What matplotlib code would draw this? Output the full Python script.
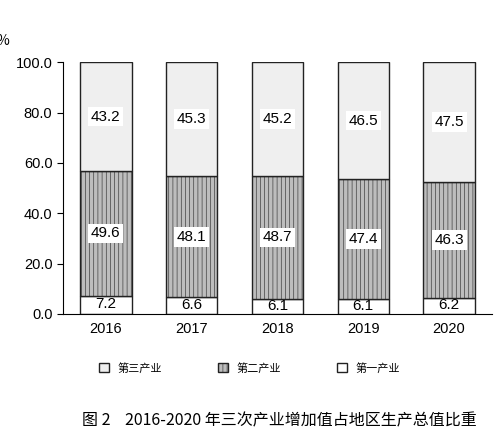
import matplotlib.pyplot as plt
import numpy as np

plt.rcParams['font.family'] = ['Noto Sans CJK SC', 'DejaVu Sans']
plt.rcParams['hatch.linewidth'] = 0.4
plt.rcParams['hatch.color'] = '#777777'

years = ['2016', '2017', '2018', '2019', '2020']
primary = [7.2, 6.6, 6.1, 6.1, 6.2]
secondary = [49.6, 48.1, 48.7, 47.4, 46.3]
tertiary = [43.2, 45.3, 45.2, 46.5, 47.5]

fig = plt.figure(figsize=(4.99, 4.41), dpi=100)
ax = fig.add_axes([0.126, 0.288, 0.86, 0.571])
x = np.arange(len(years))
w = 0.6

b1 = ax.bar(x, primary, w, color='white', edgecolor='#222222', linewidth=1)
b2 = ax.bar(x, secondary, w, bottom=primary, color='#bdbdbd', edgecolor='#222222',
            linewidth=1, hatch='||||')
bot3 = np.array(primary) + np.array(secondary)
b3 = ax.bar(x, tertiary, w, bottom=bot3, color='#efefef', edgecolor='#222222',
            linewidth=1)

for i in range(len(years)):
    ax.text(x[i], primary[i] / 2 + 0.3, f'{primary[i]:.1f}', ha='center', va='center', fontsize=11,
            family='Liberation Sans')
    ax.text(x[i], primary[i] + secondary[i] / 2, f'{secondary[i]:.1f}', ha='center', va='center',
            fontsize=11, family='Liberation Sans',
            bbox=dict(facecolor='white', edgecolor='none', pad=2))
    ax.text(x[i], bot3[i] + tertiary[i] / 2, f'{tertiary[i]:.1f}', ha='center', va='center',
            fontsize=11, family='Liberation Sans',
            bbox=dict(facecolor='white', edgecolor='none', pad=2))

ax.set_ylim(0, 100)
ax.set_xlim(-0.5, 4.5)
ax.set_yticks(np.arange(0, 101, 20))
ax.set_yticklabels([f'{v:.1f}' for v in range(0, 101, 20)], family='Liberation Sans', fontsize=10.5)
ax.set_xticks(x)
ax.set_xticklabels(years, family='Liberation Sans', fontsize=10.5)
ax.tick_params(axis='x', length=0, pad=6)
ax.tick_params(axis='y', direction='out', length=4)
for s in ['top', 'right']:
    ax.spines[s].set_visible(False)
ax.text(-0.14, 1.07, '%', transform=ax.transAxes, fontsize=10, ha='center')

fig.legend([b3, b2, b1], ['第三产业', '第二产业', '第一产业'], loc='center',
           bbox_to_anchor=(0.5, 0.165), ncol=3, frameon=False, fontsize=8,
           handlelength=0.9, handleheight=0.9, columnspacing=5)
fig.text(0.56, 0.035, '图 2    2016-2020 年三次产业增加值占地区生产总值比重', ha='center',
         fontsize=11.5)

fig.savefig('out.png', dpi=100)
